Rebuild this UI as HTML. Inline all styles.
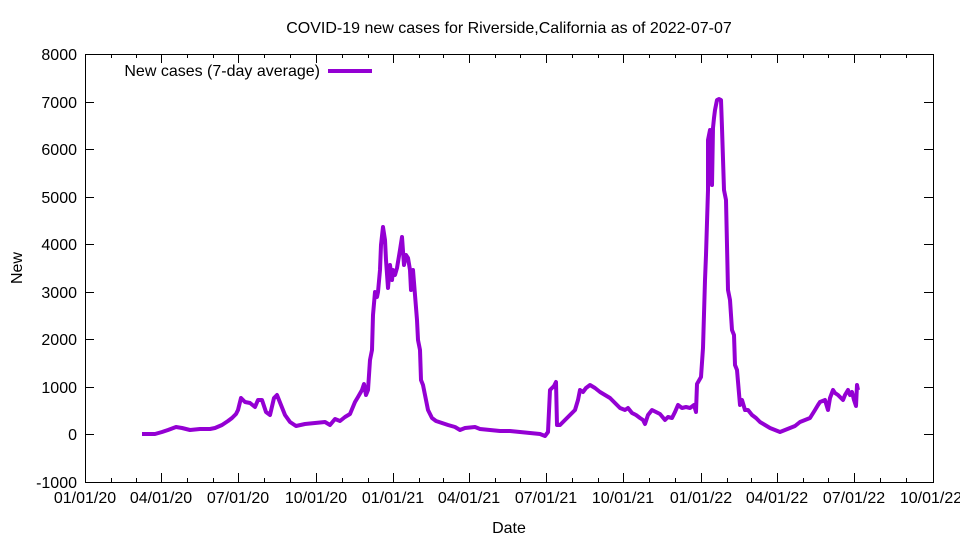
<!DOCTYPE html>
<html><head><meta charset="utf-8"><style>
body{margin:0;background:#fff}
svg{display:block;font-family:"Liberation Sans",Arial,sans-serif;font-size:16px}
</style></head><body>
<svg width="960" height="540" viewBox="0 0 960 540" xmlns="http://www.w3.org/2000/svg">
<rect width="960" height="540" fill="#fff"/>
<g stroke="#000" stroke-width="1" fill="none">
<rect x="85.5" y="54.5" width="848" height="428"/>
<path d="M85,102.5h9M933,102.5h-9M85,149.5h9M933,149.5h-9M85,197.5h9M933,197.5h-9M85,244.5h9M933,244.5h-9M85,292.5h9M933,292.5h-9M85,339.5h9M933,339.5h-9M85,387.5h9M933,387.5h-9M85,434.5h9M933,434.5h-9"/>
<path d="M161.5,482v-9M161.5,54v9M238.5,482v-9M238.5,54v9M316.5,482v-9M316.5,54v9M393.5,482v-9M393.5,54v9M469.5,482v-9M469.5,54v9M546.5,482v-9M546.5,54v9M623.5,482v-9M623.5,54v9M701.5,482v-9M701.5,54v9M777.5,482v-9M777.5,54v9M854.5,482v-9M854.5,54v9"/>
<path d="M111.5,482v-4M111.5,54v4M136.5,482v-4M136.5,54v4M187.5,482v-4M187.5,54v4M213.5,482v-4M213.5,54v4M264.5,482v-4M264.5,54v4M290.5,482v-4M290.5,54v4M342.5,482v-4M342.5,54v4M368.5,482v-4M368.5,54v4M419.5,482v-4M419.5,54v4M443.5,482v-4M443.5,54v4M495.5,482v-4M495.5,54v4M520.5,482v-4M520.5,54v4M572.5,482v-4M572.5,54v4M598.5,482v-4M598.5,54v4M649.5,482v-4M649.5,54v4M675.5,482v-4M675.5,54v4M727.5,482v-4M727.5,54v4M751.5,482v-4M751.5,54v4M803.5,482v-4M803.5,54v4M828.5,482v-4M828.5,54v4M880.5,482v-4M880.5,54v4M906.5,482v-4M906.5,54v4"/>
</g>
<g text-anchor="end">
<text x="77" y="60">8000</text><text x="77" y="108">7000</text><text x="77" y="155">6000</text><text x="77" y="203">5000</text><text x="77" y="250">4000</text><text x="77" y="298">3000</text><text x="77" y="345">2000</text><text x="77" y="393">1000</text><text x="77" y="440">0</text><text x="77" y="488">-1000</text>
</g>
<g text-anchor="middle">
<text x="85" y="503">01/01/20</text><text x="161" y="503">04/01/20</text><text x="238" y="503">07/01/20</text><text x="316" y="503">10/01/20</text><text x="393" y="503">01/01/21</text><text x="469" y="503">04/01/21</text><text x="546" y="503">07/01/21</text><text x="623" y="503">10/01/21</text><text x="701" y="503">01/01/22</text><text x="777" y="503">04/01/22</text><text x="854" y="503">07/01/22</text><text x="931" y="503">10/01/22</text>
<text x="509" y="533">Date</text>
<text x="509" y="33">COVID-19 new cases for Riverside,California as of 2022-07-07</text>
<text x="22" y="268" transform="rotate(-90 22 268)">New</text>
</g>
<text x="320" y="76" text-anchor="end">New cases (7-day average)</text>
<line x1="328" y1="71" x2="372" y2="71" stroke="#9400d3" stroke-width="4"/>
<polyline fill="none" stroke="#9400d3" stroke-width="4" stroke-linejoin="round" points="142,434 155,434 162,432 168,430 176,427 182,428 190,430 200,429 210,429 215,428 222,425 228,421 232,418 236,414 238,410 241,398 245,402 250,403 255,407 258,400 262,400 266,412 270,415 274,398 277,395 281,405 285,415 290,422 296,426 305,424 315,423 325,422 330,425 335,419 340,421 345,417 350,414 355,402 358,397 362,390 364,384 366,395 368,390 370,360 372,350 373,315 375,292 377,297 378,292 380,270 381,245 383,227 385,240 386,260 388,288 390,265 392,280 393,270 395,275 397,268 398,262 400,250 402,237 404,265 406,255 408,258 410,270 411,290 413,270 415,295 417,320 418,340 420,350 421,380 423,385 425,395 428,410 432,418 436,421 442,423 448,425 455,427 460,430 465,428 475,427 480,429 490,430 500,431 510,431 520,432 530,433 540,434 545,436 548,432 550,390 552,388 554,386 556,382 557,425 560,425 565,420 570,415 575,410 578,400 580,390 583,392 586,388 590,385 595,388 600,392 605,395 610,398 615,403 620,408 625,410 628,408 632,413 636,415 640,418 643,420 645,424 648,415 652,410 656,412 660,414 665,420 668,417 672,418 675,412 678,405 682,408 686,407 690,408 694,405 696,412 697,384 701,377 703,348 705,280 706,255 708,190 708,140 710,130 712,185 713,128 714,118 715,110 717,100 719,99 721,100 722,128 724,190 726,200 728,290 730,300 732,330 734,335 735,365 737,370 740,405 742,400 745,410 748,410 752,415 756,418 760,422 765,425 770,428 775,430 780,432 785,430 790,428 795,426 800,422 805,420 810,418 815,410 818,405 820,402 825,400 828,410 830,398 833,390 835,393 838,395 841,398 843,400 845,395 848,390 850,395 852,392 854,400 856,406 857,385 858,390"/>
</svg>
</body></html>
